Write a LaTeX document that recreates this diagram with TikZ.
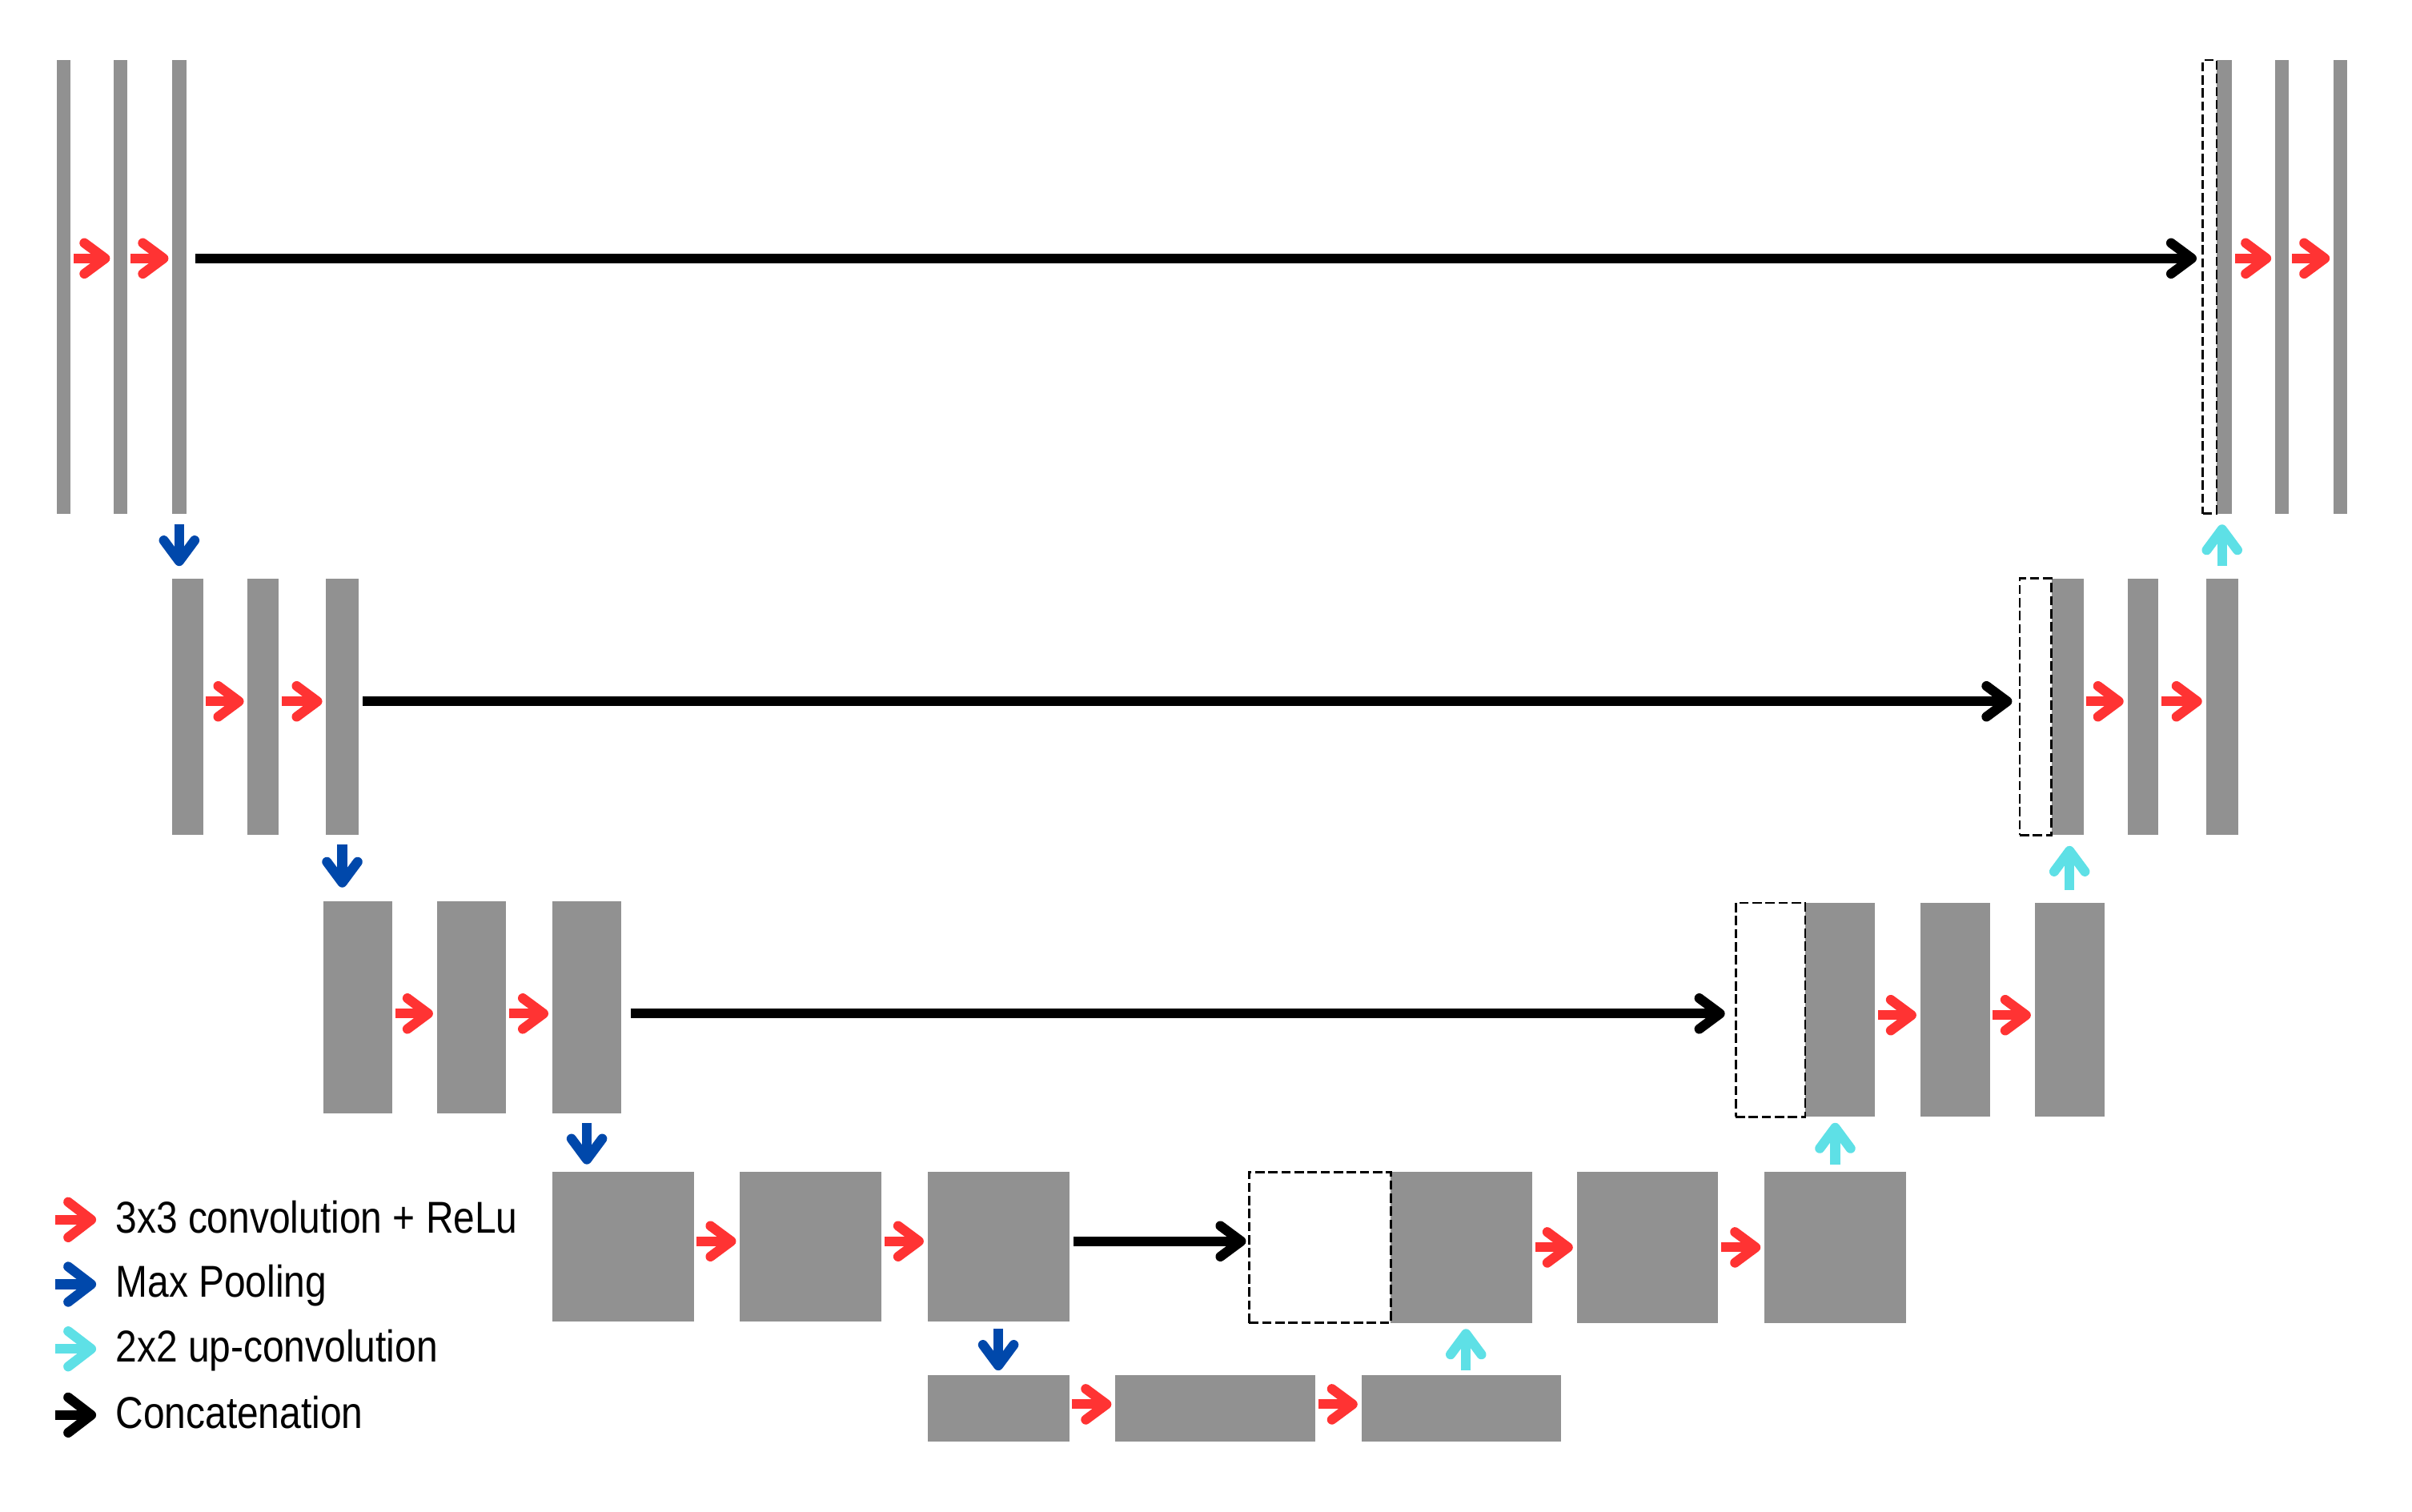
\documentclass[tikz,border=0pt]{standalone}
\usepackage{fontspec}
\setmainfont{Liberation Sans}[FakeStretch=0.86]
\usetikzlibrary{arrows.meta}
\definecolor{fmgray}{RGB}{145,145,145}
\definecolor{convred}{RGB}{255,51,51}
\definecolor{poolblue}{RGB}{0,72,171}
\definecolor{upcyan}{RGB}{94,224,230}
\tikzset{
  fm/.style={rectangle, fill=fmgray, draw=none, inner sep=0pt, outer sep=0pt},
  catbox/.style={rectangle, draw=black, dash pattern=on 6pt off 2.5pt, line width=1.5pt, fill=white, inner sep=0pt, outer sep=0pt},
  flow/.style={line width=6.3pt, -{Straight Barb[round, length=13.5pt, width=20pt]}},
  conv/.style={flow, draw=convred},
  pool/.style={flow, draw=poolblue},
  upc/.style={flow, draw=upcyan},
  cat/.style={flow, draw=black},
  hgap/.style={shorten <=2pt, shorten >=2.5pt},
  legtip/.style={line width=6.3pt, -{Straight Barb[round, length=15pt, width=23pt]}},
  legtext/.style={anchor=base west, inner sep=0pt, font=\fontsize{29}{34}\selectfont},
}
\newcommand\fmap[6][fm]{\node[#1, minimum width={(#5-#3)*1pt}, minimum height={(#6-#4)*1pt}] (#2) at ({(#3+#5)/2},{(#4+#6)/2}) {};}
\begin{document}
\begin{tikzpicture}[x=1pt, y=-1pt]
\useasboundingbox (0,0) rectangle (1568,983);
% row heights of the arrows
\coordinate (y1) at (0,168);
\coordinate (y2) at (0,456);
\coordinate (y3) at (0,659);
\coordinate (y3r) at (0,660);
\coordinate (y4) at (0,807);
\coordinate (y4r) at (0,811);
\coordinate (y5) at (0,913);
% level 1
\fmap{l1a}{37}{39}{46}{334}
\fmap{l1b}{74}{39}{83}{334}
\fmap{l1c}{112}{39}{121}{334}
\fmap{r1a}{1441}{39}{1451}{334}
\fmap{r1b}{1479}{39}{1488}{334}
\fmap{r1c}{1517}{39}{1526}{334}
\fmap[catbox]{r1cat}{1432}{39}{1441}{334}
% level 2
\fmap{l2a}{112}{376}{132}{543}
\fmap{l2b}{161}{376}{181}{543}
\fmap{l2c}{212}{376}{233}{543}
\fmap{r2a}{1333.6}{376}{1354.4}{543}
\fmap{r2b}{1383}{376}{1403}{543}
\fmap{r2c}{1434}{376}{1455}{543}
\fmap[catbox]{r2cat}{1313}{376}{1333.6}{543}
% level 3
\fmap{l3a}{210}{586}{255}{724}
\fmap{l3b}{284}{586}{329}{724}
\fmap{l3c}{359}{586}{404}{724}
\fmap{r3a}{1173.5}{587}{1219}{726}
\fmap{r3b}{1248.3}{587}{1293.5}{726}
\fmap{r3c}{1322.7}{587}{1368}{726}
\fmap[catbox]{r3cat}{1128.3}{587}{1173.5}{726}
% level 4
\fmap{l4a}{359}{762}{451}{859}
\fmap{l4b}{481}{762}{573}{859}
\fmap{l4c}{603}{762}{695}{859}
\fmap{r4a}{904}{762}{996}{860}
\fmap{r4b}{1025}{762}{1117}{860}
\fmap{r4c}{1147}{762}{1239}{860}
\fmap[catbox]{r4cat}{812}{762}{904}{860}
% bottom
\fmap{b1}{603}{894}{695}{937}
\fmap{b2}{725}{894}{855}{937}
\fmap{b3}{885}{894}{1015}{937}
% convolutions
\draw[conv, hgap] (l1a.east |- y1) -- (l1b.west |- y1);
\draw[conv, hgap] (l1b.east |- y1) -- (l1c.west |- y1);
\draw[conv, hgap] (r1a.east |- y1) -- (r1b.west |- y1);
\draw[conv, hgap] (r1b.east |- y1) -- (r1c.west |- y1);
\draw[conv, hgap] (l2a.east |- y2) -- (l2b.west |- y2);
\draw[conv, hgap] (l2b.east |- y2) -- (l2c.west |- y2);
\draw[conv, hgap] (r2a.east |- y2) -- (r2b.west |- y2);
\draw[conv, hgap] (r2b.east |- y2) -- (r2c.west |- y2);
\draw[conv, hgap] (l3a.east |- y3) -- (l3b.west |- y3);
\draw[conv, hgap] (l3b.east |- y3) -- (l3c.west |- y3);
\draw[conv, hgap] (r3a.east |- y3r) -- (r3b.west |- y3r);
\draw[conv, hgap] (r3b.east |- y3r) -- (r3c.west |- y3r);
\draw[conv, hgap] (l4a.east |- y4) -- (l4b.west |- y4);
\draw[conv, hgap] (l4b.east |- y4) -- (l4c.west |- y4);
\draw[conv, hgap] (r4a.east |- y4r) -- (r4b.west |- y4r);
\draw[conv, hgap] (r4b.east |- y4r) -- (r4c.west |- y4r);
\draw[conv, hgap] (b1.east |- y5) -- (b2.west |- y5);
\draw[conv, hgap] (b2.east |- y5) -- (b3.west |- y5);
% concatenations
\draw[cat, shorten <=6pt, shorten >=4pt] (l1c.east |- y1) -- (r1cat.west |- y1);
\draw[cat, shorten <=3pt, shorten >=5pt] (l2c.east |- y2) -- (r2cat.west |- y2);
\draw[cat, shorten <=6pt, shorten >=7pt] (l3c.east |- y3) -- (r3cat.west |- y3);
\draw[cat, shorten <=3pt, shorten >=2pt] (l4c.east |- y4) -- (r4cat.west |- y4);
% max pooling
\draw[pool, shorten <=7pt, shorten >=8pt] (l1c.south) -- (l1c.south |- l2a.north);
\draw[pool, shorten <=6pt, shorten >=9pt] (l2c.south) -- (l2c.south |- l3a.north);
\draw[pool, shorten <=6pt, shorten >=5pt] (l3c.south) -- (l3c.south |- l4a.north);
\draw[pool, shorten <=5pt, shorten >=3pt] (l4c.south) -- (l4c.south |- b1.north);
% up-convolutions
\draw[upc, shorten <=3pt, shorten >=4pt] ([xshift=3pt]b3.north) -- ([xshift=3pt]b3.north |- r4a.south);
\draw[upc, shorten <=5pt, shorten >=4pt] (r4c.north) -- (r4c.north |- r3a.south);
\draw[upc, shorten <=8.5pt, shorten >=7pt] (r3c.north) -- (r3c.north |- r2a.south);
\draw[upc, shorten <=8pt, shorten >=7pt] (r2c.north) -- (r2c.north |- r1a.south);
% legend
\coordinate (lg1s) at (36,793);   \coordinate (lg1e) at (62.5,793);
\coordinate (lg2s) at (36,835);   \coordinate (lg2e) at (62.5,835);
\coordinate (lg3s) at (36,877);   \coordinate (lg3e) at (62.5,877);
\coordinate (lg4s) at (36,920);   \coordinate (lg4e) at (62.5,920);
\draw[legtip, draw=convred] (lg1s) -- (lg1e);
\draw[legtip, draw=poolblue] (lg2s) -- (lg2e);
\draw[legtip, draw=upcyan] (lg3s) -- (lg3e);
\draw[legtip, draw=black] (lg4s) -- (lg4e);
\node[legtext] (lt1) at (75,801.5) {3x3 convolution + ReLu};
\node[legtext] (lt2) at (75,843.5) {Max Pooling};
\node[legtext] (lt3) at (75,885.5) {2x2 up-convolution};
\node[legtext] (lt4) at (75,928.5) {Concatenation};
\end{tikzpicture}
\end{document}
